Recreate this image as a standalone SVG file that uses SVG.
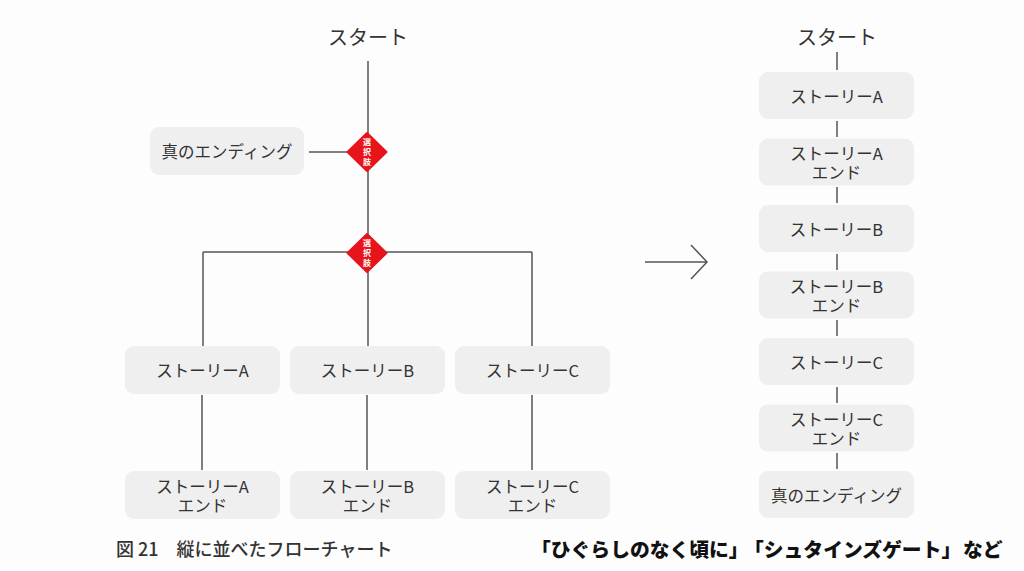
<svg xmlns="http://www.w3.org/2000/svg" width="1024" height="571" viewBox="0 0 1024 571">
<style>
.bg{fill:#fdfdfd}
.node{fill:#efefef}
.t{font-family:"Noto Sans CJK JP","Noto Sans",sans-serif;font-size:16.5px;fill:#333;text-anchor:middle;dominant-baseline:central}
.title{font-family:"Noto Sans CJK JP","Noto Sans",sans-serif;font-size:20px;fill:#333;text-anchor:middle;dominant-baseline:central}
.ln{stroke:#555;stroke-width:1.5;fill:none}
.dia{fill:#e8141b}
.dt{font-family:"Noto Sans CJK JP",sans-serif;font-size:8px;font-weight:bold;fill:#fff;text-anchor:middle;dominant-baseline:central}
.cap{font-family:"Noto Sans CJK JP","Noto Sans",sans-serif;font-size:18px;fill:#333;font-weight:500}
.cap2{font-family:"Noto Sans CJK JP","Noto Sans",sans-serif;font-size:19.8px;fill:#111;font-weight:900}
</style>
<rect class="bg" width="1024" height="571"/>
<g id="connectors">
<path class="ln" d="M368 61V346"/>
<path class="ln" d="M309 152H348"/>
<path class="ln" d="M203 252H532M203 252V346M532 252V346"/>
<path class="ln" d="M202 395V470M367 395V470M532 395V470"/>
<path class="ln" d="M837 52V70M837 121V137M837 187V203M837 254V270M837 320V336M837 387V403M837 453V469"/>
<path class="ln" d="M645 262H707M691 245L707 262L691 279" stroke="#777"/>
</g>
<g id="start-left"><text class="title" x="368" y="36">スタート</text></g>
<g id="start-right"><text class="title" x="837" y="36">スタート</text></g>
<g id="true-ending-left"><rect class="node" x="150" y="127" width="154" height="48" rx="9"/><text class="t" x="227" y="151">真のエンディング</text></g>
<g id="choice1"><path class="dia" d="M367 133L386.5 152L367 171L347.5 152Z" stroke="#e8141b" stroke-width="2" stroke-linejoin="round"/><text class="dt" x="367" y="141">選</text><text class="dt" x="367" y="151">択</text><text class="dt" x="367" y="161">肢</text></g>
<g id="choice2"><path class="dia" d="M367 234L386.5 253L367 272L347.5 253Z" stroke="#e8141b" stroke-width="2" stroke-linejoin="round"/><text class="dt" x="367" y="242">選</text><text class="dt" x="367" y="252">択</text><text class="dt" x="367" y="262">肢</text></g>
<g id="story-a"><rect class="node" x="125" y="346" width="155" height="48" rx="9"/><text class="t" x="202.5" y="370">ストーリーA</text></g>
<g id="story-b"><rect class="node" x="290" y="346" width="155" height="48" rx="9"/><text class="t" x="367.5" y="370">ストーリーB</text></g>
<g id="story-c"><rect class="node" x="455" y="346" width="155" height="48" rx="9"/><text class="t" x="532.5" y="370">ストーリーC</text></g>
<g id="story-a-end"><rect class="node" x="125" y="471" width="155" height="48" rx="9"/><text class="t" x="202.5" y="486">ストーリーA</text><text class="t" x="202.5" y="505">エンド</text></g>
<g id="story-b-end"><rect class="node" x="290" y="471" width="155" height="48" rx="9"/><text class="t" x="367.5" y="486">ストーリーB</text><text class="t" x="367.5" y="505">エンド</text></g>
<g id="story-c-end"><rect class="node" x="455" y="471" width="155" height="48" rx="9"/><text class="t" x="532.5" y="486">ストーリーC</text><text class="t" x="532.5" y="505">エンド</text></g>
<g id="r-story-a"><rect class="node" x="759" y="72" width="155" height="47" rx="9"/><text class="t" x="836.5" y="96">ストーリーA</text></g>
<g id="r-story-a-end"><rect class="node" x="759" y="138.5" width="155" height="47" rx="9"/><text class="t" x="836.5" y="153">ストーリーA</text><text class="t" x="836.5" y="172">エンド</text></g>
<g id="r-story-b"><rect class="node" x="759" y="205" width="155" height="47" rx="9"/><text class="t" x="836.5" y="229">ストーリーB</text></g>
<g id="r-story-b-end"><rect class="node" x="759" y="271.5" width="155" height="47" rx="9"/><text class="t" x="836.5" y="286">ストーリーB</text><text class="t" x="836.5" y="305">エンド</text></g>
<g id="r-story-c"><rect class="node" x="759" y="338" width="155" height="47" rx="9"/><text class="t" x="836.5" y="362">ストーリーC</text></g>
<g id="r-story-c-end"><rect class="node" x="759" y="404.5" width="155" height="47" rx="9"/><text class="t" x="836.5" y="419">ストーリーC</text><text class="t" x="836.5" y="438">エンド</text></g>
<g id="r-true-ending"><rect class="node" x="759" y="471" width="155" height="47" rx="9"/><text class="t" x="836.5" y="495">真のエンディング</text></g>
<g id="captions">
<text class="cap" x="116" y="556">図 21　縦に並べたフローチャート</text>
<text class="cap2" x="531" y="557">「ひぐらしのなく頃に」</text>
<text class="cap2" x="744" y="557">「シュタインズゲート」</text>
<text class="cap2" x="963" y="557">など</text>
</g>
</svg>
